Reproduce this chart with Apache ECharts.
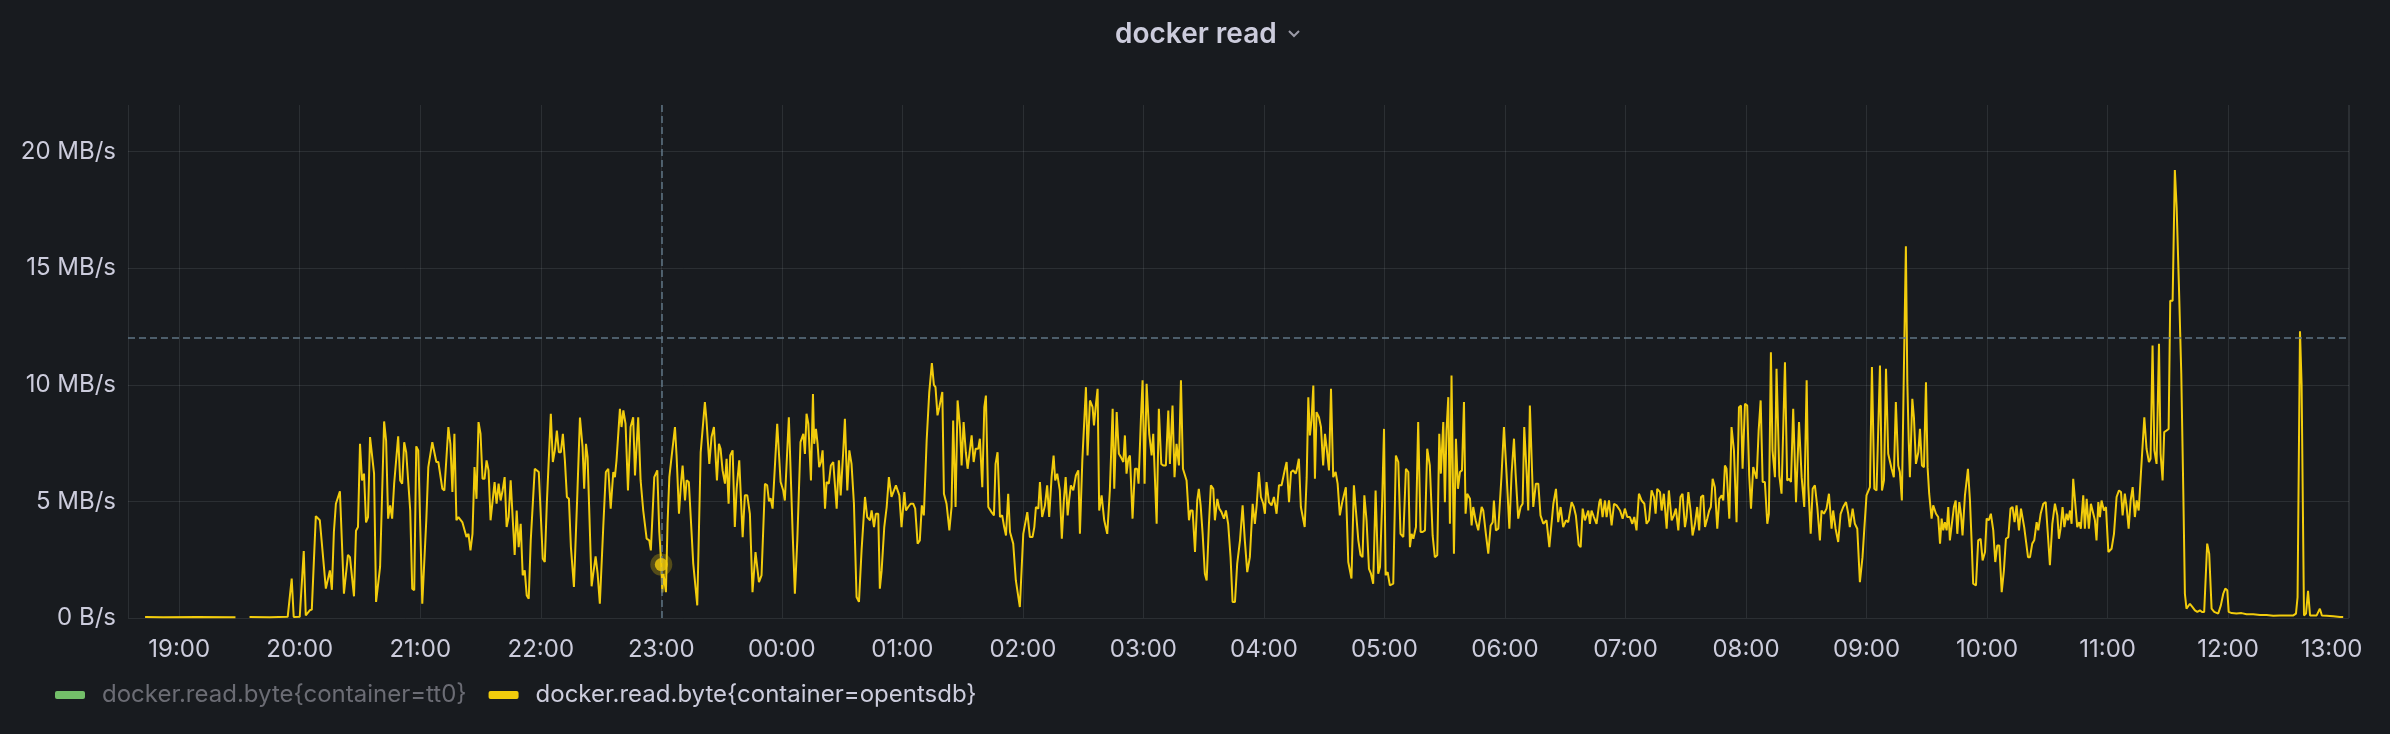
<!DOCTYPE html>
<html><head><meta charset="utf-8">
<script src="https://cdn.jsdelivr.net/npm/echarts@6/dist/echarts.min.js"></script>
<style>html,body{margin:0;padding:0;background:#181b1f;}#c{width:2390px;height:734px;}</style>
</head><body><div id="c"></div>
<script>
// ---- data (minutes after 19:00, MB/s) ----
const seriesNames = ['docker.read.byte{container=tt0}', 'docker.read.byte{container=opentsdb}'];
const titleText = 'docker read';
const yTickValues = [0, 5, 10, 15, 20];
const yTickLabels = ['0 B/s', '5 MB/s', '10 MB/s', '15 MB/s', '20 MB/s'];
const xTickLabels = ['19:00','20:00','21:00','22:00','23:00','00:00','01:00','02:00','03:00','04:00','05:00','06:00','07:00','08:00','09:00','10:00','11:00','12:00','13:00'];
const axisStartMin = -25.5, axisEndMin = 1080.2, yMaxMBps = 22;
const thresholdMBps = 12;
const hoverPoint = [240, 2.29];
const tt0Samples = [];
const opentsdb1 = [[-17,0.04],[-8,0.03],[9,0.04],[28,0.03],[31,null],[35,0.04],[45,0.03],[54,0.05],[56,1.69],[57,0.04],[60,0.05],[62,2.87],[63,0.11],[65,0.33],[66,0.36],[68,4.37],[70,4.19],[73,1.26],[75,2.04],[76,1.21],[77,3.69],[78,4.9],[80,5.43],[82,1.04],[84,2.71],[85,2.61]];
const opentsdb2 = [[87,0.93],[88,3.74],[89,3.9],[90,7.47],[91,5.9],[92,6.19],[93,4.1],[94,4.33],[95,7.76],[97,6.19],[98,0.69],[100,2.19],[102,8.43],[103,7.61],[104,4.26],[105,4.83],[106,4.26],[107,5.76],[109,7.79],[110,5.9],[111,5.76],[112,7.54],[113,7.11],[115,4.61],[116,1.26],[117,1.19],[118,7.36],[119,7.19],[121,0.61],[123,4.19],[124,6.47],[126,7.54],[128,6.69],[129,6.69],[131,5.54],[132,5.47],[134,8.19],[135,7.47],[136,5.4],[137,7.9],[138,4.19],[139,4.33],[141,4.1],[143,3.47],[144,3.61],[145,2.9],[146,3.61],[147,6.47],[148,5.11],[149,8.4],[150,7.9],[151,5.97],[152,5.97],[153,6.76],[154,6.33],[155,4.19],[157,5.83],[158,4.9],[159,5.76],[160,5.04],[161,5.47],[162,6.04],[163,3.9],[164,4.33],[165,5.9],[167,2.7],[168,4.61],[169,3.04],[170,4.04],[171,1.83],[172,2.04],[173,0.97],[174,0.83],[175,3.33],[177,6.4],[179,6.26],[181,2.54],[182,2.4],[183,4.9],[185,8.76],[186,6.69],[187,7.19],[188,8.04],[189,7.11],[190,7.11],[191,7.9],[192,6.76],[193,5.19],[194,5.11],[195,3.04]];
const opentsdb3 = [[196.5,1.33],[198.2,5.33],[199.5,8.6],[200.8,7.33],[201.6,5.54],[202.5,7.47],[203.3,6.9],[205.3,1.36],[206.1,1.89],[207.3,2.64],[208.3,1.9],[209.4,0.61],[211.1,3.9],[212.4,6.26],[213.6,6.4],[214.8,4.69],[216.1,6.26],[216.9,6.04],[217.7,6.76],[219.4,8.97],[220.2,8.19],[221.1,8.9],[222.2,8.33],[223.4,5.47],[224.7,8.19],[226.0,8.61],[226.9,6.11],[228.5,8.61],[229.7,5.9],[231.0,4.61],[232.7,3.4],[234.0,3.33],[234.8,2.9],[236.5,6.04],[238.0,6.33],[239.0,3.69],[240.0,2.29],[240.5,1.1],[241.1,1.89],[242.3,1.11],[243.1,4.04],[244.0,6.04],[245.1,6.9],[245.9,6.97],[246.8,8.19],[247.6,6.97],[248.8,4.47],[249.8,5.76],[250.6,6.54],[251.8,5.04],[252.6,5.9],[253.7,5.83],[255.1,3.61],[255.9,2.33],[257.9,0.54],[259.6,7.1],[261.7,9.26],[262.5,8.47],[263.9,6.61],[265.0,7.76],[266.2,8.19],[267.0,8.11],[267.7,5.9],[268.7,7.47],[269.5,7.26],[270.5,6.33],[271.7,5.76],[272.5,6.83],[273.5,4.9],[274.3,6.97],[275.5,7.19],[276.6,3.9],[277.5,5.54],[278.8,6.76],[280.5,3.47],[281.6,5.26],[282.8,5.26],[284.1,4.47],[285.4,1.11],[286.9,2.83],[288.6,1.54],[289.9,1.83],[291.6,5.76],[292.7,5.69],[293.6,5.0],[294.4,5.14],[295.4,4.69],[297.7,8.33],[299.4,5.83],[300.7,5.47],[301.5,5.04],[303.5,8.61]];
const opentsdb4 = [[305.4,3.61],[306.5,1.04],[307.7,3.33],[309.3,7.54],[310.7,7.9],[311.5,7.04],[312.3,8.76],[313.2,8.33],[314.5,5.9],[315.5,9.61],[316.1,7.47],[317.0,8.11],[317.8,7.47],[318.6,6.47],[319.5,6.69],[320.3,7.19],[321.5,4.69],[322.3,5.83],[323.4,5.76],[324.4,6.54],[325.6,6.69],[326.4,6.61],[327.3,4.69],[328.4,6.76],[329.3,5.26],[330.6,7.19],[331.4,8.54],[332.6,5.47],[333.6,7.19],[334.7,6.61],[335.9,4.9],[337.2,0.9],[338.4,0.69],[339.7,2.9],[341.4,5.19],[342.5,4.33],[343.9,4.19],[344.7,4.61],[345.9,3.9],[346.8,4.47],[348.0,4.47],[348.8,1.26],[349.7,2.04],[351.0,3.9],[352.2,4.76],[353.3,6.04],[354.6,5.19],[355.5,5.11],[356.8,5.69],[358.5,5.26],[359.6,3.9],[361.0,5.4],[361.8,4.61],[362.9,4.76],[364.1,4.9],[365.4,4.9],[366.4,4.69],[367.6,3.19],[368.7,3.33],[369.7,4.83],[370.7,4.4],[372.1,7.61],[373.4,9.69],[374.7,10.93],[375.7,10.0],[376.5,9.9],[377.5,8.69],[378.4,9.04],[379.9,9.69],[380.7,5.33],[382.0,4.9],[383.4,3.76],[384.5,4.76],[385.3,8.47],[386.5,4.76],[387.5,9.33],[388.7,8.19],[389.5,6.54],[390.5,8.4],[391.6,7.11],[392.5,6.4],[393.5,7.11],[394.5,7.83],[395.5,6.69],[396.5,7.26],[397.8,7.26],[398.6,7.69],[399.8,5.61],[400.8,9.04],[401.6,9.54],[402.8,4.76],[404.4,4.54],[405.6,4.4],[406.4,6.61],[407.4,7.11],[408.6,4.33],[409.7,4.4],[410.7,3.9],[411.6,3.54],[412.7,5.33]];
const opentsdb5 = [[413.6,3.69],[415.2,3.19],[416.5,1.61],[418.5,0.47],[420.2,3.61],[422.2,4.54],[423.5,3.47],[424.8,3.47],[425.7,3.9],[426.5,4.76],[427.7,4.69],[428.5,5.83],[429.6,4.33],[431.0,4.83],[432.1,5.69],[433.1,4.33],[434.3,6.04],[435.3,6.97],[436.1,5.9],[437.1,6.19],[438.4,5.47],[439.4,3.4],[440.4,5.04],[441.3,6.04],[442.3,4.4],[443.1,5.11],[443.9,5.69],[445.1,5.47],[446.4,6.11],[447.6,6.33],[448.4,3.61],[449.6,6.76],[450.4,6.83],[451.4,9.9],[452.2,6.97],[453.4,9.33],[454.7,9.04],[455.4,8.26],[456.4,9.19],[457.2,9.83],[458.0,4.61],[459.2,5.26],[460.5,4.19],[462.0,3.61],[463.3,5.47],[464.7,8.97],[465.5,5.54],[466.7,8.83],[467.8,7.04],[468.8,6.9],[470.0,6.69],[470.8,7.83],[471.6,6.19],[472.5,6.83],[473.3,6.97],[474.6,4.26],[475.8,6.4],[476.9,6.4],[477.6,5.76],[478.8,8.61],[479.6,10.19],[480.6,5.76],[481.6,10.04],[482.9,7.9],[484.1,6.97],[484.9,7.9],[486.6,4.04],[487.7,8.97],[488.9,6.61],[489.9,6.54],[491.2,6.54],[492.4,8.9],[493.2,6.61],[494.5,9.11],[495.5,6.04],[496.5,7.47],[497.7,6.54],[498.7,10.19],[499.7,6.4],[501.5,5.9],[502.7,4.19],[503.5,4.61],[504.5,4.61],[505.7,2.83],[506.8,5.04],[507.6,5.54],[508.5,4.83],[509.5,3.61],[510.6,1.9],[511.5,1.61],[512.6,3.97],[513.6,5.69],[514.8,5.54],[515.6,4.19],[516.8,5.11],[517.8,4.69],[518.9,4.54],[520.1,4.26],[521.1,4.61],[522.2,4.04]];
const opentsdb6 = [[523.4,2.61],[524.4,0.69],[525.6,0.69],[526.7,2.33],[528.1,3.33],[529.4,4.83],[530.5,3.33],[531.7,1.97],[533.0,2.61],[534.4,4.9],[535.5,4.04],[536.4,4.83],[537.5,6.26],[538.5,5.19],[539.7,4.9],[540.5,4.47],[541.3,5.83],[542.5,4.97],[543.8,4.83],[545.0,5.19],[546.3,4.47],[547.5,5.69],[548.8,5.69],[549.6,5.76],[550.5,6.4],[551.3,6.69],[552.5,4.97],[553.5,6.26],[554.6,6.33],[555.8,6.19],[556.3,6.33],[557.4,6.83],[558.4,4.76],[559.3,4.69],[560.3,3.9],[561.3,6.04],[562.1,9.47],[562.9,7.83],[563.7,8.47],[564.6,9.97],[565.4,5.97],[566.2,8.83],[567.4,8.61],[568.4,8.19],[569.5,6.54],[570.4,7.9],[571.2,7.33],[572.4,6.33],[573.4,9.83],[574.5,6.04],[575.7,6.26],[576.7,5.76],[577.8,4.4],[579.0,4.97],[580.0,5.33],[580.8,5.61],[582.0,2.4],[582.8,2.33],[583.6,1.69],[584.8,5.69],[585.8,4.61],[587.0,3.33],[588.1,2.7],[589.1,2.61],[590.0,5.26],[591.1,4.19],[592.3,2.11],[593.3,1.9],[594.4,1.47],[595.6,5.47],[596.9,1.9],[597.8,2.19],[598.9,5.11],[599.8,8.11],[600.6,1.83],[601.6,1.97],[602.7,1.4],[604.4,1.47],[605.7,6.97],[606.9,6.69],[608.0,3.61],[609.4,3.47],[610.7,6.4],[611.9,6.26],[612.7,3.04],[613.5,3.61],[614.4,3.4],[615.7,3.9],[616.8,8.4],[618.0,3.69],[619.0,3.69],[620.2,3.76],[621.3,7.26],[622.6,6.54],[624.0,3.54],[625.1,2.61],[626.3,2.69],[627.3,7.9],[628.1,6.19],[629.3,8.4],[630.1,4.97],[630.9,8.04],[631.8,9.47],[632.6,4.04]];
const opentsdb7 = [[633.4,10.4],[634.6,2.76],[635.6,7.69],[636.6,5.54],[637.6,6.26],[638.6,6.33],[639.6,9.26],[640.4,4.47],[641.2,5.33],[642.6,5.11],[643.4,3.97],[644.2,4.76],[645.4,4.19],[646.7,3.76],[648.4,4.76],[649.2,4.61],[650.5,3.61],[651.7,2.76],[652.9,3.97],[653.9,4.11],[654.5,5.04],[655.5,3.76],[656.7,3.83],[658.3,6.11],[659.5,8.19],[660.8,6.19],[662.2,3.83],[663.3,6.19],[664.5,7.69],[665.3,6.19],[666.6,4.26],[667.8,4.76],[668.8,4.9],[669.6,8.19],[670.8,6.19],[671.6,4.61],[672.4,9.11],[674.1,4.76],[675.4,5.76],[676.6,5.76],[677.7,4.4],[679.1,4.04],[680.7,4.19],[682.1,3.04],[684.1,4.9],[685.4,5.54],[686.5,4.11],[687.7,4.76],[689.0,3.9],[690.4,4.19],[691.5,4.11],[693.2,4.97],[694.3,4.76],[695.3,4.4],[696.7,3.14],[697.7,3.04],[698.7,4.69],[699.8,4.19],[700.6,4.19],[701.5,4.61],[702.3,4.04],[703.1,4.61],[704.3,4.33],[705.6,4.04],[707.0,4.97],[707.6,5.11],[708.6,4.33],[709.8,5.04],[710.6,4.33],[711.8,5.04],[713.1,3.97],[714.3,4.9],[715.6,4.83],[717.3,4.61],[718.6,4.26],[719.7,4.69],[720.9,4.33],[722.2,4.33],[723.4,4.04],[724.4,4.33],[725.5,3.76],[726.7,5.33],[728.0,5.04],[729.4,4.9],[730.5,4.04],[731.7,4.19],[733.0,5.47],[734.2,5.19],[735.0,4.47],[735.8,5.54],[737.2,5.4],[738.0,4.61],[739.1,5.33],[740.5,3.83],[741.6,5.47]];
const opentsdb8 = [[743.0,4.19],[744.1,4.4],[745.1,4.69],[746.3,3.76],[747.4,5.19],[748.4,5.33],[749.6,3.9],[750.4,4.33],[751.3,5.4],[752.4,4.61],[753.4,3.54],[754.6,4.04],[755.7,4.76],[756.7,3.76],[757.6,5.19],[758.7,5.26],[759.6,3.9],[760.7,4.26],[761.7,4.61],[762.5,4.76],[763.4,5.97],[764.5,5.61],[765.7,3.83],[766.7,5.11],[767.9,5.26],[768.7,5.04],[769.5,6.54],[770.3,6.4],[771.7,4.26],[772.8,8.19],[774.0,7.19],[775.3,4.11],[776.5,9.04],[777.5,9.11],[778.3,6.4],[779.5,9.19],[780.6,9.11],[781.6,6.11],[782.5,4.69],[783.6,6.47],[784.4,6.4],[785.3,5.97],[786.3,8.04],[787.3,9.33],[788.3,5.83],[789.4,5.83],[790.6,4.04],[791.4,4.47],[792.4,11.4],[793.2,7.19],[794.4,6.04],[795.2,10.69],[796.6,6.11],[797.7,5.33],[799.4,10.97],[800.5,5.9],[801.5,5.97],[802.4,5.83],[803.5,8.97],[804.9,4.97],[806.4,8.4],[807.7,6.04],[809.0,4.76],[810.2,10.19],[811.0,5.69],[812.2,3.61],[813.2,5.54],[814.3,5.69],[815.5,4.76],[816.8,3.33],[817.6,4.61],[818.8,4.47],[820.1,4.69],[821.3,5.33],[822.6,3.83],[823.4,4.61],[824.6,3.83],[825.9,3.26],[827.1,4.47],[828.4,4.76],[829.8,4.97],[830.9,4.47],[831.7,3.9],[833.1,4.69],[834.2,4.04],[835.4,3.83],[836.7,1.54],[838.0,2.61],[838.9,3.83],[840.0,5.26],[840.9,5.19],[841.7,5.61],[842.7,10.76],[843.9,5.54],[845.0,5.47],[846.7,10.83],[847.7,5.47],[848.7,5.9],[849.7,10.69],[850.8,7.04]];
const opentsdb9 = [[852.5,6.4],[853.6,6.04],[854.6,9.26],[855.8,6.54],[856.6,6.26],[857.6,5.04],[858.6,10.61],[859.6,15.94],[860.3,10.19],[861.0,7.61],[861.6,6.04],[862.8,9.4],[863.6,8.61],[864.6,6.61],[865.8,7.11],[866.6,8.11],[867.6,6.54],[868.6,6.47],[869.6,10.11],[870.4,6.47],[871.2,5.33],[872.4,4.26],[873.2,4.83],[874.6,4.47],[875.7,4.33],[876.6,3.19],[877.4,4.26],[878.2,3.76],[879.0,4.11],[879.9,3.76],[880.7,4.76],[881.5,3.33],[882.7,4.19],[883.5,4.76],[884.4,5.04],[885.2,3.61],[886.2,4.97],[887.0,4.47],[887.8,3.54],[889.0,5.26],[890.5,6.4],[891.5,5.04],[892.3,3.33],[893.1,1.47],[894.5,1.4],[895.6,3.33],[896.8,3.4],[897.8,2.47],[899.0,2.83],[899.8,4.26],[900.9,4.19],[901.9,4.47],[903.1,3.76],[904.1,2.4],[905.1,3.11],[906.1,3.11],[907.3,1.11],[908.4,2.04],[909.4,3.4],[910.6,3.47],[911.7,4.69],[912.7,4.76],[913.7,4.11],[914.7,4.83],[915.9,3.76],[916.9,4.69],[917.7,4.61],[918.5,3.9],[919.4,3.83],[920.4,2.61],[921.4,2.61],[922.5,3.19],[923.5,3.33],[924.7,4.11],[925.5,3.76],[926.7,4.47],[928.0,4.9],[929.2,4.97],[930.2,3.69],[931.3,2.26],[932.5,4.04],[933.8,4.9],[935.0,4.4],[935.8,3.4],[936.6,3.83],[937.6,4.76],[938.5,3.9],[939.6,4.47],[940.4,4.19],[941.3,4.61],[942.1,4.04],[942.9,5.97],[943.8,5.9],[944.9,3.9],[945.9,4.11],[946.7,3.83],[947.9,5.26],[948.7,3.83],[949.6,5.11],[950.7,3.83],[951.7,4.9],[952.6,4.97],[953.7,4.19],[954.5,3.33],[955.4,4.97],[956.2,4.33],[957.0,5.04],[958.2,4.61],[959.2,4.76],[960.4,2.83]];
const opentsdb10 = [[962.0,2.97],[963.2,3.61],[964.5,5.19],[965.7,5.47],[966.7,5.4],[967.5,4.4],[968.6,5.33],[969.5,4.76],[970.5,3.83],[971.5,5.04],[972.5,5.61],[973.6,4.33],[974.5,5.04],[975.5,4.61],[976.6,6.19],[978.3,8.61],[979.4,7.26],[980.6,6.69],[981.4,6.83],[982.4,11.69],[983.3,7.19],[984.4,6.61],[985.6,11.76],[986.4,7.04],[987.4,5.9],[988.2,7.97],[989.4,8.04],[990.4,8.11],[991.2,13.61],[992.4,13.61],[993.5,19.21],[994.4,17.6],[995.5,14.33],[996.7,10.47],[997.7,5.47],[998.5,1.04],[999.3,0.4],[1001.0,0.61],[1002.3,0.47],[1003.5,0.33],[1004.7,0.26],[1006.0,0.33],[1007.0,0.26],[1008.1,0.26],[1008.8,0.26],[1009.6,3.19],[1010.6,2.76],[1011.8,0.4],[1013.1,0.26],[1015.1,0.19],[1016.4,0.54],[1017.6,1.04],[1018.6,1.26],[1019.6,1.19],[1020.3,0.26],[1021.8,0.21],[1024.2,0.19],[1026.7,0.21],[1029.2,0.16],[1032.5,0.16],[1035.9,0.13],[1039.2,0.13],[1042.5,0.1],[1045.8,0.11],[1049.1,0.11],[1052.5,0.11],[1053.8,0.19],[1054.6,0.9],[1055.8,12.3],[1056.6,10.0],[1057.8,0.11],[1058.8,0.19],[1059.8,1.16],[1060.8,0.11],[1062.4,0.11],[1064.1,0.11],[1065.7,0.4],[1066.7,0.11],[1069.0,0.1],[1072.4,0.07],[1075.7,0.04],[1077.3,0.04]];

// ---- chart ----
const base = new Date(2024, 0, 1, 19, 0, 0).getTime();
const toTs = m => base + m * 60000;
const toPoint = ([m, v]) => [toTs(m), v === null ? '-' : v];
const opentsdbData = [].concat(opentsdb1, opentsdb2, opentsdb3, opentsdb4, opentsdb5, opentsdb6, opentsdb7, opentsdb8, opentsdb9, opentsdb10).map(toPoint);

const textColor = '#ccccdc';
const gridColor = 'rgba(240,250,255,0.09)';
const lineColor = '#F2CC0C';
const crossColor = '#5f7585';
const font = 'Inter';

const chart = echarts.init(document.getElementById('c'), null, {renderer: 'canvas'});
chart.setOption({
  backgroundColor: '#181b1f',
  animation: false,
  title: {
    text: titleText, left: 1110, top: 16,
    textStyle: {color: textColor, fontSize: 28, fontWeight: 600, fontFamily: font}
  },
  graphic: [
    {type: 'polyline', shape: {points: [[1289, 31], [1294, 36], [1299, 31]]}, style: {stroke: '#9a9aa6', lineWidth: 2, fill: null}}
  ],
  legend: {
    left: 50, top: 678, icon: 'roundRect', itemWidth: 30, itemHeight: 8, itemGap: 22,
    selectedMode: false,
    textStyle: {color: textColor, fontSize: 24, fontFamily: font, padding: [0, 0, 0, 12]},
    data: [
      {name: seriesNames[0], textStyle: {color: '#6b6c74'}},
      {name: seriesNames[1]}
    ]
  },
  grid: {left: 128, right: 41, top: 105, bottom: 116, containLabel: false},
  xAxis: {
    type: 'time', min: toTs(axisStartMin), max: toTs(axisEndMin),
    minInterval: 3600000, maxInterval: 3600000, splitNumber: 20,
    axisLine: {show: false}, axisTick: {show: false},
    splitLine: {show: true, lineStyle: {color: gridColor, width: 1}},
    axisLabel: {
      color: textColor, fontSize: 24, fontFamily: font, margin: 20, hideOverlap: false,
      rich: {last: {color: textColor, fontSize: 24, fontFamily: font, padding: [0, 34, 0, 0]}},
      formatter: function (v) {
        const idx = Math.round((v - base) / 3600000);
        if (Math.abs((v - base) / 3600000 - idx) > 0.01) return '';
        const label = xTickLabels[idx] || '';
        return idx === xTickLabels.length - 1 ? '{last|' + label + '}' : label;
      }
    }
  },
  yAxis: {
    type: 'value', min: 0, max: yMaxMBps, interval: 5,
    axisLine: {show: false}, axisTick: {show: false},
    splitLine: {lineStyle: {color: [gridColor, gridColor, gridColor, gridColor, gridColor, 'rgba(0,0,0,0)'], width: 1}},
    axisLabel: {
      showMaxLabel: false, color: textColor, fontSize: 24, fontFamily: font, margin: 12,
      formatter: function (v) { const i = yTickValues.indexOf(v); return i >= 0 ? yTickLabels[i] : ''; }
    }
  },
  series: [
    {name: seriesNames[0], type: 'line', data: tt0Samples, color: '#73BF69', showSymbol: false},
    {
      name: seriesNames[1], type: 'line', data: opentsdbData, color: lineColor,
      showSymbol: false, symbol: 'none', connectNulls: false,
      lineStyle: {width: 2, color: lineColor}, z: 3,
      markLine: {
        silent: true, symbol: ['none', 'none'], animation: false,
        label: {show: false},
        lineStyle: {color: crossColor, type: [7, 4], width: 1.5},
        data: [{xAxis: toTs(hoverPoint[0])}, {yAxis: thresholdMBps}]
      }
    },
    {
      name: 'hover-halo', type: 'scatter', data: [[toTs(hoverPoint[0]), hoverPoint[1]]],
      symbolSize: 22, itemStyle: {color: 'rgba(242,204,12,0.35)'}, z: 4, silent: true
    },
    {
      name: 'hover-dot', type: 'scatter', data: [[toTs(hoverPoint[0]), hoverPoint[1]]],
      symbolSize: 13, itemStyle: {color: lineColor}, z: 5, silent: true
    }
  ]
});
</script>
</body></html>
